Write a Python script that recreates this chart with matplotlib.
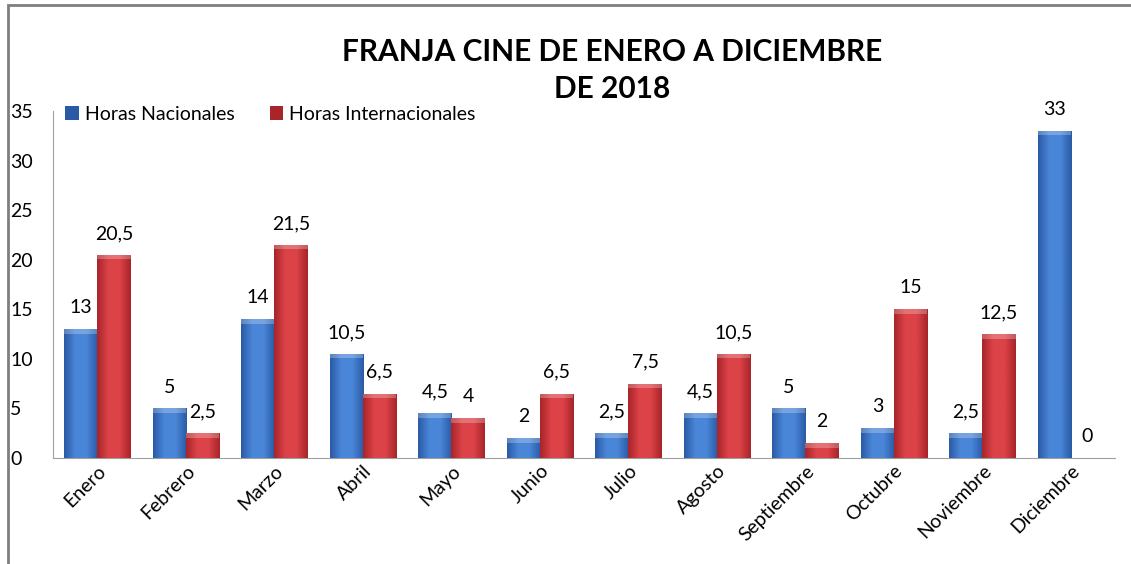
import matplotlib.pyplot as plt
import numpy as np
from matplotlib.patches import Rectangle

meses = ['Enero', 'Febrero', 'Marzo', 'Abril', 'Mayo', 'Junio', 'Julio',
         'Agosto', 'Septiembre', 'Octubre', 'Noviembre', 'Diciembre']
nacionales = [13, 5, 14, 10.5, 4.5, 2, 2.5, 4.5, 5, 3, 2.5, 33]
internacionales = [20.5, 2.5, 21.5, 6.5, 4, 6.5, 7.5, 10.5, 1.5, 15, 12.5, 0]
etiquetas_nac = ['13', '5', '14', '10,5', '4,5', '2', '2,5', '4,5', '5', '3', '2,5', '33']
etiquetas_int = ['20,5', '2,5', '21,5', '6,5', '4', '6,5', '7,5', '10,5', '2', '15', '12,5', '0']

plt.rcParams['font.family'] = ['Lato', 'DejaVu Sans']

fig = plt.figure(figsize=(11.31, 5.64), dpi=100)
ax = fig.add_axes([0.047, 0.188, 0.939, 0.615])

# marco del gráfico
fig.patches.append(Rectangle((8 / 1131, -0.1), 1.2, 0.1 + 1 - 5 / 564, transform=fig.transFigure,
                             fill=False, edgecolor='#7f7f7f', linewidth=2))

x = np.arange(len(meses))
w = 0.375


def barras_degradado(xs, vals, c_claro, c_oscuro, label):
    bars = ax.bar(xs, vals, w, color=c_oscuro, label=label, zorder=2)
    cmap = plt.matplotlib.colors.LinearSegmentedColormap.from_list('g', [c_oscuro, c_claro, c_claro, c_oscuro])
    grad = np.linspace(0, 1, 64).reshape(1, -1)
    for b in bars:
        h = b.get_height()
        if h <= 0:
            continue
        x0 = b.get_x()
        im = ax.imshow(grad, extent=[x0, x0 + w, 0, h], aspect='auto', cmap=cmap, zorder=3)
        im.set_clip_path(b)
        # bisel superior
        ax.add_patch(Rectangle((x0, h - 0.45), w, 0.45, color='white', alpha=0.25, zorder=4, lw=0))
    return bars


barras_degradado(x - w / 2, nacionales, '#4a86d8', '#2a5aa5', 'Horas Nacionales')
barras_degradado(x + w / 2, internacionales, '#dc4348', '#a8252a', 'Horas Internacionales')

for i in range(len(meses)):
    ax.text(x[i] - w / 2, nacionales[i] + 1.3, etiquetas_nac[i], ha='center', va='bottom', fontsize=14)
    ax.text(x[i] + w / 2, internacionales[i] + 1.3, etiquetas_int[i], ha='center', va='bottom', fontsize=14)

ax.set_xlim(-0.5, len(meses) - 0.5)
ax.set_ylim(0, 35)
ax.set_yticks(range(0, 36, 5))
ax.set_xticks(x)
ax.set_xticklabels(meses, rotation=45, ha='right', rotation_mode='anchor', fontsize=14)
ax.tick_params(axis='y', labelsize=14, length=0, pad=31)
ax.tick_params(axis='x', length=0, pad=3)
for lbl in ax.get_yticklabels():
    lbl.set_horizontalalignment('left')
for s in ['top', 'right']:
    ax.spines[s].set_visible(False)
ax.spines['left'].set_color('#a0a0a0')
ax.spines['bottom'].set_color('#a0a0a0')

leg = ax.legend(loc='upper left', bbox_to_anchor=(-0.005, 1.065), ncol=2, frameon=False, fontsize=14,
                handlelength=0.7, handleheight=0.7, handletextpad=0.3, columnspacing=1.8)

fig.text(0.541, 0.908, 'FRANJA CINE DE ENERO A DICIEMBRE', ha='center', va='center',
         fontsize=21.5, fontweight='bold')
fig.text(0.541, 0.842, 'DE 2018', ha='center', va='center', fontsize=21.5, fontweight='bold')

fig.savefig('out.png', dpi=100)
